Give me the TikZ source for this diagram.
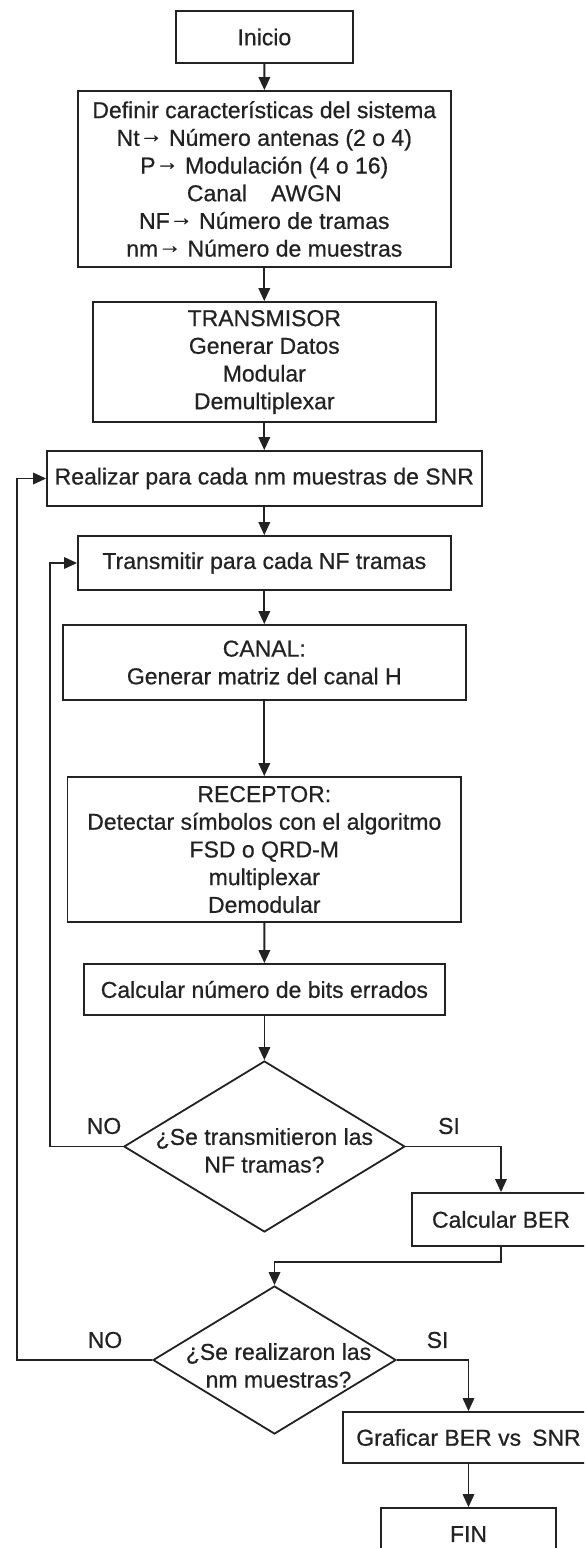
\documentclass[tikz,border=0pt]{standalone}
\usepackage{fontspec}
\setmainfont{Liberation Sans}[FakeBold=0.6]
\usetikzlibrary{arrows.meta,shapes.geometric}
\definecolor{ink}{HTML}{222222}
\newcommand{\arr}{\raisebox{0.16em}{→}}
\begin{document}
\begin{tikzpicture}[x=1pt,y=-1pt,
  every node/.style={font=\fontsize{23}{27.7}\selectfont, text=ink},
  box/.style={draw=ink, line width=1.8pt, rectangle, inner sep=0pt, align=center},
  dia/.style={draw=ink, line width=1.8pt, diamond, inner sep=0pt},
  lbl/.style={inner sep=0pt, align=center},
  flow/.style={draw=ink, line width=1.8pt, -{Triangle[length=13pt,width=11.5pt]}},
  link/.style={draw=ink, line width=1.8pt}]
\useasboundingbox (0,0) rectangle (584,1548);
\fill[white] (0,0) rectangle (584,1548);
\clip (0,0) rectangle (584,1548);

\node[box, minimum width=177pt, minimum height=52pt] (inicio) at (264.4,37) {Inicio};
\node[box, minimum width=373pt, minimum height=176pt] (definir) at (264.3,179)
  {Definir características del sistema\\Nt\arr{} Número antenas (2 o 4)\\P\arr{} Modulación (4 o 16)\\Canal\hspace{24pt}AWGN\\NF\arr{} Número de tramas\\nm\arr{} Número de muestras};
\node[box, minimum width=343pt, minimum height=120pt] (trans) at (264.3,362)
  {TRANSMISOR\\Generar Datos\\Modular\\Demultiplexar};
\node[box, minimum width=434.6pt, minimum height=55pt] (realizar) at (264.3,478.5)
  {Realizar para cada nm muestras de SNR};
\node[box, minimum width=372.6pt, minimum height=54pt] (transmitir) at (264.3,563)
  {Transmitir para cada NF tramas};
\node[box, minimum width=403.3pt, minimum height=75pt] (canal) at (264.3,662.5)
  {CANAL:\\Generar matriz del canal H};
\node[box, minimum width=393.6pt, minimum height=145pt] (receptor) at (264.3,849.5)
  {RECEPTOR:\\Detectar símbolos con el algoritmo\\FSD o QRD-M\\multiplexar\\Demodular};
\node[box, minimum width=360.5pt, minimum height=51pt] (bits) at (264.4,989.5)
  {Calcular número de bits errados};

\node[dia, minimum width=281pt, minimum height=171pt] (d1) at (264.4,1146.5) {};
\node[lbl] (d1t) at (264.4,1150.5) {¿Se transmitieron las\\NF tramas?};
\node[lbl] (no1) at (104,1126) {NO};
\node[lbl] (si1) at (449,1126) {SI};

\node[box, minimum width=178pt, minimum height=53pt] (ber) at (501,1219.5) {Calcular BER};

\node[dia, minimum width=243pt, minimum height=148pt] (d2) at (274.5,1360) {};
\node[lbl] (d2t) at (278.5,1365.5) {¿Se realizaron las\\nm muestras?};
\node[lbl] (no2) at (105,1340) {NO};
\node[lbl] (si2) at (437.6,1340) {SI};

\node[box, minimum width=251pt, minimum height=51pt] (graf) at (468.5,1437.5) {Graficar BER vs\hspace{11pt}SNR};
\node[box, minimum width=175pt, minimum height=52pt] (fin) at (468.5,1534) {FIN};

\coordinate (c1) at (50,563);
\coordinate (c2) at (274.5,1262);
\coordinate (c3) at (17,478.5);

\draw[flow] (inicio) -- (definir);
\draw[flow] (definir) -- (trans);
\draw[flow] (trans) -- (realizar);
\draw[flow] (realizar) -- (transmitir);
\draw[flow] (transmitir) -- (canal);
\draw[flow] (canal) -- (receptor);
\draw[flow] (receptor) -- (bits);
\draw[flow] (bits) -- (d1.north);
\draw[flow] (d1.west) -| (c1) -- (transmitir.west);
\draw[flow] (d1.east) -| (ber.north);
\draw[flow] (ber.south) |- (c2) -- (d2.north);
\draw[flow] (d2.west) -| (c3) -- (realizar.west);
\draw[flow] (d2.east) -| (graf.north);
\draw[flow] (graf) -- (fin);
\end{tikzpicture}
\end{document}
